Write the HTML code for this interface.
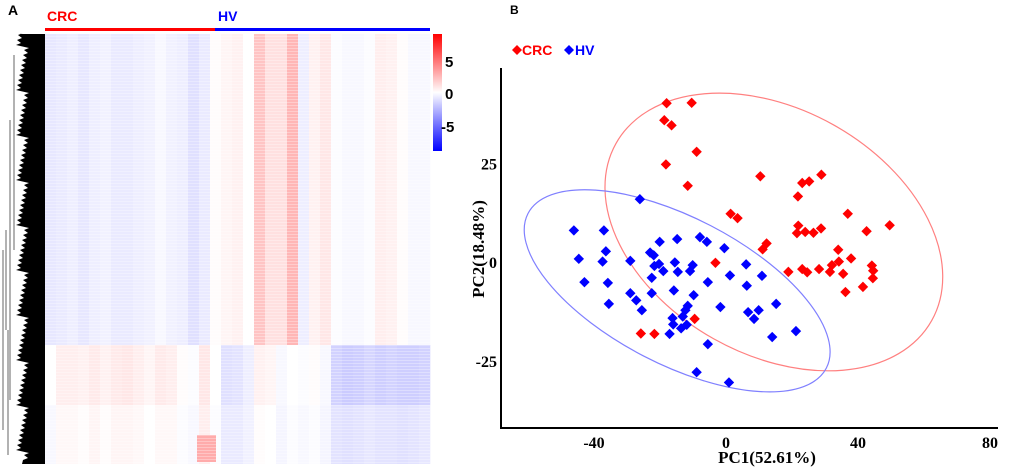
<!DOCTYPE html>
<html><head><meta charset="utf-8"><style>
html,body{margin:0;padding:0;background:#fff;width:1020px;height:470px;overflow:hidden}
svg{display:block}
.lbl{font-family:"Liberation Sans",sans-serif;font-weight:bold}
.ser{font-family:"Liberation Serif",serif;font-weight:bold}
</style></head><body>
<svg id="fig" width="1020" height="470" viewBox="0 0 1020 470" xmlns="http://www.w3.org/2000/svg">
<defs>
<linearGradient id="cbar" x1="0" y1="0" x2="0" y2="1">
<stop offset="0" stop-color="#ff0000"/><stop offset="0.5" stop-color="#ffffff"/><stop offset="1" stop-color="#0000ff"/>
</linearGradient>
<pattern id="rows" width="6" height="3" patternUnits="userSpaceOnUse">
<rect x="0" y="0" width="6" height="1" fill="#ffffff" opacity="0.3"/>
</pattern>
</defs>
<text x="8" y="15" class="lbl" font-size="14">A</text>
<text x="47" y="21" class="lbl" font-size="14" fill="#ff0000">CRC</text>
<text x="218" y="21" class="lbl" font-size="14" fill="#0000ff">HV</text>
<rect x="45" y="28" width="170" height="3" fill="#ff0000"/>
<rect x="215" y="28" width="215" height="3" fill="#0000ff"/>
<g id="heat"></g>
<rect x="45" y="34" width="385" height="430" fill="url(#rows)"/>
<g id="dendro"></g>
<rect x="433" y="34" width="9" height="117" fill="url(#cbar)"/>
<text x="445" y="67" class="lbl" font-size="15">5</text>
<text x="445" y="99" class="lbl" font-size="15">0</text>
<text x="441" y="132" class="lbl" font-size="15">-5</text>

<text x="510" y="14" class="lbl" font-size="12">B</text>
<g>
<path d="M517 45 l5 5 l-5 5 l-5 -5z" fill="#ff0000"/>
<text x="522" y="55" class="lbl" font-size="14" fill="#ff0000">CRC</text>
<path d="M569 45 l5 5 l-5 5 l-5 -5z" fill="#0000ff"/>
<text x="575" y="55" class="lbl" font-size="14" fill="#0000ff">HV</text>
</g>
<g id="pca"></g>
<line x1="501" y1="68" x2="501" y2="429" stroke="#000" stroke-width="2"/>
<line x1="500" y1="428" x2="998" y2="428" stroke="#000" stroke-width="2"/>
<text x="767" y="463" text-anchor="middle" class="ser" font-size="17">PC1(52.61%)</text>
<text transform="translate(484,249) rotate(-90)" text-anchor="middle" class="ser" font-size="17">PC2(18.48%)</text>
</svg>
<script>
// Heatmap column means (per 11px column group) for three row blocks
const heatTop = [-0.4,-0.3,-0.2,-0.4,-0.2,-0.1,-0.3,-0.3,-0.2,-0.1,0.1,-0.1,-0.2,-0.6,-0.3,0.4,0.6,0.7,0.3,2.0,1.2,1.2,2.4,-0.2,0.7,1.0,0.2,0.1,0.1,0.2,0.8,0.7,0.4,0.1,0.1];
const heatMid = [0.3,0.8,0.8,0.7,0.9,0.7,0.9,1.0,0.8,0.6,0.9,0.8,0.4,0.2,1.0,0.3,-0.6,-0.5,-0.2,0.7,0.6,0.1,0.3,0.2,0.4,0.1,-1.0,-1.2,-1.1,-0.9,-1.1,-1.0,-1.1,-1.1,-1.0];
const heatBot = [0.1,0.5,0.5,0.4,0.6,0.4,0.6,0.6,0.5,0.3,0.5,0.5,0.2,0.1,0.8,0.2,-0.3,-0.3,-0.1,0.4,0.3,0.0,0.2,0.1,0.2,0.0,-0.5,-0.6,-0.5,-0.4,-0.5,-0.5,-0.6,-0.5,-0.4];
const blockEdges = [34, 345, 405, 464];
const patchValue = 2.4; // red patch, bottom of CRC/HV boundary

// PCA scores
const crcPC1 = [-18.0,-10.4,-18.7,-16.5,-8.9,-18.2,-11.6,10.4,23.1,25.2,28.9,21.8,1.4,3.5,36.9,21.9,21.5,24.0,26.5,28.8,42.6,49.6,12.3,11.1,34.0,34.2,37.9,-3.2,18.9,23.1,24.6,28.2,31.5,32.1,35.5,44.2,44.6,44.5,41.5,36.2,-9.5,-25.8,-21.7];
const crcPC2 = [40.2,40.3,35.9,34.6,27.9,24.7,19.3,21.7,20.0,20.4,22.1,16.6,12.2,11.1,12.2,9.2,7.3,7.6,7.4,8.5,7.8,9.3,4.7,3.2,3.1,0.1,0.9,-0.2,-2.5,-1.8,-2.6,-1.8,-2.5,-0.8,-3.0,-0.9,-2.2,-4.1,-6.3,-7.6,-14.4,-18.1,-18.2];
const hvPC1 = [-26.1,-46.1,-37.0,-44.6,-36.4,-37.4,-29.0,-42.9,-35.8,-35.5,-29.0,-27.2,-25.5,-22.5,-22.5,-20.1,-23.0,-21.9,-21.7,-20.3,-19.0,-14.8,-15.5,-14.6,-15.8,-7.9,-5.8,-10.1,-10.9,-5.5,-9.8,-11.6,-12.3,-13.1,-16.2,-16.0,-11.9,-13.6,-17.1,-0.5,1.2,6.1,6.3,10.9,-1.7,6.7,9.9,8.5,15.2,14.0,21.2,-5.5,-8.9,0.9];
const hvPC2 = [15.9,8.0,8.0,0.8,2.7,0.1,0.3,-5.1,-5.3,-10.6,-7.9,-9.7,-12.2,-7.9,-4.0,5.1,2.4,1.7,-1.0,-0.5,-2.3,5.8,-0.1,-2.5,-7.2,6.3,5.1,-0.8,-2.3,-5.1,-8.4,-11.1,-12.2,-13.8,-14.2,-15.8,-15.9,-16.8,-18.2,3.5,-3.4,-0.6,-6.0,-3.5,-11.4,-12.7,-12.2,-14.4,-10.6,-19.0,-17.5,-20.8,-27.9,-30.5];
const xTicks = [-40, 0, 40, 80];
const yTicks = [25, 0, -25];
const crcCenter = [14.5, 7.6];
const hvCenter = [-14.8, -7.3];

const NS = "http://www.w3.org/2000/svg";
function mk(tag, attrs, parent){const e=document.createElementNS(NS,tag);for(const k in attrs)e.setAttribute(k,attrs[k]);parent.appendChild(e);return e;}
function heatColor(v){const t=Math.min(255,Math.abs(v)*35);const c=Math.round(255-t);return v>=0?`rgb(255,${c},${c})`:`rgb(${c},${c},255)`;}

// heatmap
const heat=document.getElementById('heat');
const colW = 385/heatTop.length;
[heatTop,heatMid,heatBot].forEach((arr,b)=>{
  arr.forEach((v,i)=>{
    const r=mk('rect',{x:(45+i*colW).toFixed(2),y:blockEdges[b],width:(colW+0.3).toFixed(2),height:blockEdges[b+1]-blockEdges[b],fill:heatColor(v-0.3)},heat);
    
    
  });
});
const patch=mk('rect',{x:197,y:435,width:19,height:27,fill:heatColor(patchValue)},heat);



// dendrogram (decorative)
const dg=document.getElementById('dendro');
let d="M45 34 L45 464 L22 464";
for(let y=460;y>34;y-=5){const x=16+((y*7)%9);d+=` L${x} ${y} L${x+5} ${y-2}`;}
d+=" L20 34 Z";
const dp=mk('path',{d:d,fill:'#000'},dg);


const trunk=mk('path',{d:'M14 55 L14 250 M10 120 L10 400 M6 230 L6 330 M3 250 L3 430 M8 330 L8 455',stroke:'#666',fill:'none','stroke-width':1},dg);



// PCA
const sx=v=>726+v*3.3;
const sy=v=>262-v*3.95;
const pca=document.getElementById('pca');
xTicks.forEach(t=>{
  const e=mk('text',{x:sx(t),y:448,'text-anchor':'middle','class':'ser','font-size':16},pca);
  e.textContent=t;
  
  
});
yTicks.forEach(t=>{
  const e=mk('text',{x:497,y:sy(t)+6,'text-anchor':'end','class':'ser','font-size':16},pca);
  e.textContent=t;
  
  
});
const er=mk('ellipse',{cx:sx(crcCenter[0]),cy:sy(crcCenter[1]),rx:181,ry:122.6,fill:'none',stroke:'#ff8080','stroke-width':1.2,transform:`rotate(29.3 ${sx(crcCenter[0])} ${sy(crcCenter[1])})`},pca);


const eb=mk('ellipse',{cx:sx(hvCenter[0]),cy:sy(hvCenter[1]),rx:168,ry:73.3,fill:'none',stroke:'#8080ff','stroke-width':1.2,transform:`rotate(27.4 ${sx(hvCenter[0])} ${sy(hvCenter[1])})`},pca);


function diamond(x,y,col){const s=5.2;return mk('path',{d:`M${x} ${y-s} L${x+s} ${y} L${x} ${y+s} L${x-s} ${y}Z`,fill:col},pca);}
crcPC1.forEach((v,i)=>{
  const p=diamond(sx(v),sy(crcPC2[i]),'#ff0000');
  
  
});
hvPC1.forEach((v,i)=>{
  const p=diamond(sx(v),sy(hvPC2[i]),'#0000ff');
  
  
});
</script>
</body></html>
